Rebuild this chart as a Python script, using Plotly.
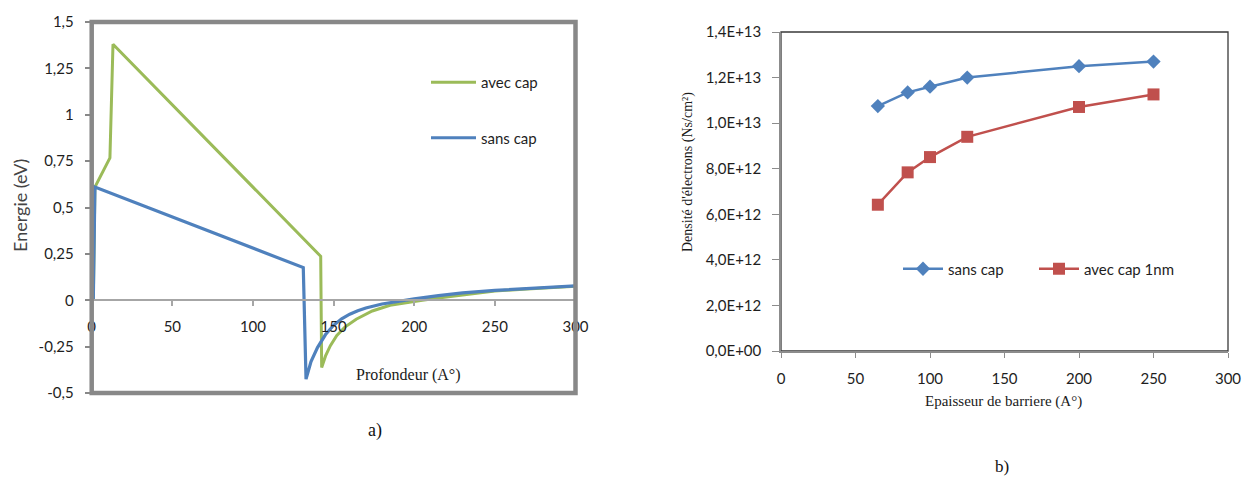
import plotly.graph_objects as go

# ---- a) energy band profile vs depth ----
prof_sans_x = [1.0, 2.0, 131.2, 132.9, 136, 140, 145, 150, 155, 160, 165, 170, 180, 190,
               200, 215, 230, 250, 270, 300]
prof_sans_y = [0.0, 0.61, 0.176, -0.425, -0.33, -0.255, -0.185, -0.135, -0.1, -0.075, -0.057,
               -0.042, -0.02, -0.005, 0.007, 0.025, 0.04, 0.053, 0.063, 0.077]

prof_avec_x = [1.0, 2.0, 11.3, 13.2, 142.0, 142.6, 145, 148, 152, 157, 164, 174, 185, 195,
               205, 215, 230, 250, 270, 300]
prof_avec_y = [0.0, 0.61, 0.767, 1.38, 0.237, -0.362, -0.3, -0.245, -0.19, -0.145, -0.102,
               -0.058, -0.027, -0.012, 0.0, 0.012, 0.03, 0.05, 0.061, 0.076]

energy_ticks = [-0.5, -0.25, 0, 0.25, 0.5, 0.75, 1, 1.25, 1.5]
energy_labels = ["-0,5", "-0,25", "0", "0,25", "0,5", "0,75", "1", "1,25", "1,5"]
depth_ticks = [0, 50, 100, 150, 200, 250, 300]

# ---- b) electron sheet density vs barrier thickness ----
epaisseur = [65, 85, 100, 125, 200, 250]
dens_sans_cap = [1.075e13, 1.135e13, 1.16e13, 1.20e13, 1.25e13, 1.27e13]
dens_avec_cap = [6.42e12, 7.84e12, 8.51e12, 9.40e12, 1.071e13, 1.126e13]

dens_ticks = [0, 2e12, 4e12, 6e12, 8e12, 1e13, 1.2e13, 1.4e13]
dens_labels = ["0,0E+00", "2,0E+12", "4,0E+12", "6,0E+12", "8,0E+12",
               "1,0E+13", "1,2E+13", "1,4E+13"]
epais_ticks = [0, 50, 100, 150, 200, 250, 300]

GREEN = "#9BBB59"
BLUE = "#4F81BD"
RED = "#C0504D"
FRAME = "#888888"
SANS = "Lato, Carlito, sans-serif"
TICKFONT = dict(family=SANS, size=15, color="#1e1e1e")
LEGFONT = dict(family=SANS, size=15, color="#1e1e1e")
SERIF = "Liberation Serif, Times New Roman, serif"

W, H = 1244, 479

def px_x(p):
    return p / W

def px_y(p):
    return (H - p) / H

# subplot areas (paper fractions)
a_xdom = [px_x(91.7), px_x(575.5)]
a_ydom = [px_y(393), px_y(22)]
b_xdom = [px_x(781), px_x(1228)]
b_ydom = [px_y(351), px_y(32)]

a_yrange = [-0.5, 1.5]
zero_pos = a_ydom[0] + (0 - a_yrange[0]) / (a_yrange[1] - a_yrange[0]) * (a_ydom[1] - a_ydom[0])

fig = go.Figure()

fig.add_trace(go.Scatter(
    x=prof_avec_x, y=prof_avec_y, name="avec cap", mode="lines",
    line=dict(color=GREEN, width=3), legend="legend", legendgroup="g1",
    xaxis="x", yaxis="y"))
fig.add_trace(go.Scatter(
    x=prof_sans_x, y=prof_sans_y, name="sans cap", mode="lines",
    line=dict(color=BLUE, width=3.2), legend="legend", legendgroup="g2",
    xaxis="x", yaxis="y"))

fig.add_trace(go.Scatter(
    x=epaisseur, y=dens_sans_cap, name="sans cap", mode="lines+markers",
    line=dict(color=BLUE, width=2.5),
    marker=dict(symbol="diamond", size=11, color=BLUE),
    legend="legend2", xaxis="x2", yaxis="y2"))
fig.add_trace(go.Scatter(
    x=epaisseur, y=dens_avec_cap, name="avec cap 1nm", mode="lines+markers",
    line=dict(color=RED, width=2.5),
    marker=dict(symbol="square", size=12, color=RED),
    legend="legend3", xaxis="x2", yaxis="y2"))

fig.update_layout(
    width=W, height=H,
    margin=dict(l=0, r=0, t=0, b=0, pad=0, autoexpand=False),
    paper_bgcolor="white", plot_bgcolor="white",
    xaxis=dict(
        domain=a_xdom, range=[0, 300], anchor="free", position=zero_pos,
        tickvals=depth_ticks, ticktext=[str(v) for v in depth_ticks],
        showline=True, linecolor="#A6A6A6", linewidth=1.5,
        ticks="outside", ticklen=5, tickcolor="#A6A6A6", tickwidth=1.5,
        ticklabelstandoff=8, automargin=False,
        showgrid=False, zeroline=False, tickfont=TICKFONT),
    yaxis=dict(
        domain=a_ydom, range=a_yrange, anchor="x",
        tickvals=energy_ticks, ticktext=energy_labels,
        showline=False, ticks="outside", ticklen=6, tickcolor=FRAME, tickwidth=1.5,
        ticklabelstandoff=8, automargin=False,
        showgrid=False, zeroline=False, tickfont=TICKFONT),
    xaxis2=dict(
        domain=b_xdom, range=[0, 300], anchor="y2",
        tickvals=epais_ticks, ticktext=[str(v) for v in epais_ticks],
        showline=True, linecolor="#8C8C8C", linewidth=1.5,
        ticks="outside", ticklen=5, tickcolor="#8C8C8C", tickwidth=1.2,
        ticklabelstandoff=8, automargin=False,
        showgrid=False, zeroline=False, tickfont=TICKFONT),
    yaxis2=dict(
        domain=b_ydom, range=[0, 1.4e13], anchor="x2",
        tickvals=dens_ticks, ticktext=dens_labels,
        showline=True, linecolor="#8C8C8C", linewidth=1.5,
        ticks="outside", ticklen=7, tickcolor="#8C8C8C", tickwidth=1.2,
        ticklabelstandoff=8, automargin=False,
        showgrid=False, zeroline=False, tickfont=TICKFONT),
    legend=dict(
        x=px_x(426), y=px_y(66), xanchor="left", yanchor="top",
        bgcolor="rgba(0,0,0,0)", tracegroupgap=33, itemwidth=45, font=LEGFONT),
    legend2=dict(
        x=px_x(898), y=px_y(269), xanchor="left", yanchor="middle",
        bgcolor="rgba(0,0,0,0)", itemwidth=40, font=LEGFONT),
    legend3=dict(
        x=px_x(1034), y=px_y(269), xanchor="left", yanchor="middle",
        bgcolor="rgba(0,0,0,0)", itemwidth=40, font=LEGFONT),
    showlegend=True,
)

# thick frame around panel a), thin frame around panel b)
fig.add_shape(type="rect", xref="x domain", yref="y domain", x0=0, x1=1, y0=0, y1=1,
              line=dict(color=FRAME, width=4.5), layer="above")
fig.add_shape(type="rect", xref="x2 domain", yref="y2 domain", x0=0, x1=1, y0=0, y1=1,
              line=dict(color="#3a3a3a", width=1.3), layer="below")

annots = [
    dict(text="Energie (eV)", x=px_x(20), y=px_y(206), textangle=-90,
         font=dict(family=SANS, size=18, color="#444444")),
    dict(text="Profondeur (A°)", x=px_x(408), y=px_y(375),
         font=dict(family=SERIF, size=16, color="#1a1a1a")),
    dict(text="a)", x=px_x(375), y=px_y(430),
         font=dict(family=SERIF, size=18, color="#111111")),
    dict(text="Densité d'électrons (Ns/cm²)", x=px_x(688), y=px_y(172), textangle=-90,
         font=dict(family=SERIF, size=14, color="#1a1a1a")),
    dict(text="Epaisseur de barriere (A°)", x=px_x(1003), y=px_y(401),
         font=dict(family=SERIF, size=15, color="#1a1a1a")),
    dict(text="b)", x=px_x(1002), y=px_y(466),
         font=dict(family=SERIF, size=17, color="#111111")),
]
for a in annots:
    fig.add_annotation(xref="paper", yref="paper", showarrow=False,
                       xanchor="center", yanchor="middle", **a)

fig.write_html("out.html")
